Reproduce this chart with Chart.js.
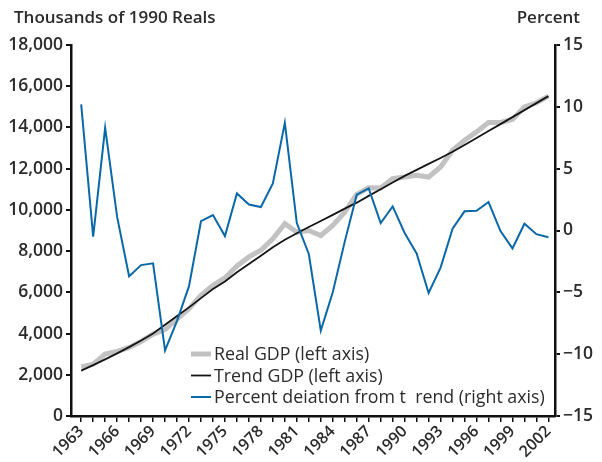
<!DOCTYPE html>
<html>
<head>
<meta charset="utf-8">
<script src="https://cdn.jsdelivr.net/npm/chart.js@4.4.0/dist/chart.umd.min.js"></script>
<style>
  html, body { margin: 0; padding: 0; background: #fff; }
  #wrap { position: relative; width: 602px; height: 462px; }
</style>
</head>
<body>
<div id="wrap"><canvas id="gdpChart"></canvas></div>
<script>
const years = [
  1963, 1964, 1965, 1966, 1967, 1968, 1969, 1970, 1971, 1972,
  1973, 1974, 1975, 1976, 1977, 1978, 1979, 1980, 1981, 1982,
  1983, 1984, 1985, 1986, 1987, 1988, 1989, 1990, 1991, 1992,
  1993, 1994, 1995, 1996, 1997, 1998, 1999, 2000, 2001, 2002
];

// thousands of 1990 reals
const realGdp = [
  2384, 2514, 3000, 3130, 3324, 3616, 3973, 4190, 4700, 5200,
  5860, 6340, 6700, 7280, 7720, 8040, 8597, 9327, 8919, 9000,
  8757, 9243, 9891, 10750, 11077, 11060, 11515, 11595, 11676, 11595,
  12080, 12892, 13378, 13784, 14240, 14240, 14385, 15000, 15195, 15520
];

const trendGdp = [
  2200, 2470, 2750, 3040, 3340, 3660, 4000, 4430, 4850, 5270,
  5720, 6160, 6530, 6970, 7380, 7780, 8190, 8550, 8870, 9170,
  9460, 9760, 10060, 10350, 10680, 11000, 11330, 11650, 11940, 12230,
  12520, 12820, 13150, 13490, 13830, 14160, 14500, 14840, 15180, 15520
];

// percent deviation from trend
const deviation = [
  10.2, -0.5, 8.3, 1.1, -3.7, -2.8, -2.65, -9.7, -7.3, -4.5,
  0.75, 1.25, -0.45, 3.0, 2.1, 1.9, 3.8, 8.7, 0.6, -1.9,
  -8.1, -5.0, -0.9, 2.9, 3.4, 0.6, 1.95, -0.2, -1.85, -5.05,
  -3.0, 0.15, 1.55, 1.6, 2.3, -0.05, -1.45, 0.55, -0.3, -0.55
];

const yearLabels = ["1963", "1966", "1969", "1972", "1975", "1978", "1981",
  "1984", "1987", "1990", "1993", "1996", "1999", "2002"];
const leftTicks = [0, 2000, 4000, 6000, 8000, 10000, 12000, 14000, 16000, 18000];
const rightTicks = [-15, -10, -5, 0, 5, 10, 15];

const leftTitle = "Thousands of 1990 Reals";
const rightTitle = "Percent";
const seriesNames = [
  "Real GDP (left axis)",
  "Trend GDP (left axis)",
  "Percent deiation from t  rend (right axis)"
];

const FONT = "'Open Sans', 'DejaVu Sans', sans-serif";
const INK = "#2b2b2b";

function pairs(values) {
  return values.map(function (v, i) { return { x: years[i], y: v }; });
}

const titlesPlugin = {
  id: "titles",
  afterDraw(chart) {
    const ctx = chart.ctx;
    ctx.save();
    ctx.fillStyle = INK;
    ctx.font = "600 17px " + FONT;
    ctx.textBaseline = "middle";
    ctx.textAlign = "left";
    ctx.fillText(leftTitle, 14, 18);
    ctx.textAlign = "right";
    ctx.fillText(rightTitle, 580, 18);
    ctx.restore();
  }
};

// legend sits inside the plot, lower right
const legendPlugin = {
  id: "insideLegend",
  afterDatasetsDraw(chart) {
    const ctx = chart.ctx;
    ctx.save();
    ctx.font = "17.8px " + FONT;
    ctx.textBaseline = "middle";
    ctx.textAlign = "left";
    chart.data.datasets.forEach(function (ds, i) {
      const y = 354 + i * 21.5;
      ctx.strokeStyle = ds.borderColor;
      ctx.lineWidth = ds.borderWidth;
      ctx.beginPath();
      ctx.moveTo(191, y);
      ctx.lineTo(211, y);
      ctx.stroke();
      ctx.fillStyle = INK;
      ctx.fillText(ds.label, 214, y + 1);
    });
    ctx.restore();
  }
};

new Chart(document.getElementById("gdpChart"), {
  type: "line",
  data: {
    datasets: [
      {
        label: seriesNames[0],
        data: pairs(realGdp),
        yAxisID: "y",
        borderColor: "#c2c2c2",
        borderWidth: 5,
        order: 3
      },
      {
        label: seriesNames[1],
        data: pairs(trendGdp),
        yAxisID: "y",
        borderColor: "#151515",
        borderWidth: 1.8,
        order: 2
      },
      {
        label: seriesNames[2],
        data: pairs(deviation),
        yAxisID: "y1",
        borderColor: "#0b68a8",
        borderWidth: 2,
        order: 1
      }
    ]
  },
  options: {
    responsive: true,
    maintainAspectRatio: false,
    animation: false,
    elements: {
      point: { radius: 0 },
      line: { tension: 0, borderJoinStyle: "miter" }
    },
    layout: { padding: { top: 45, left: 0, right: 0, bottom: 0 } },
    plugins: {
      legend: { display: false },
      tooltip: { enabled: false }
    },
    scales: {
      x: {
        type: "linear",
        min: 1962.15,
        max: 2002.55,
        grid: {
          drawOnChartArea: false,
          color: "#111",
          lineWidth: 1.5,
          tickLength: 6
        },
        border: { color: "#111", width: 2.5 },
        afterBuildTicks: function (scale) {
          scale.ticks = years.map(function (v) { return { value: v }; });
        },
        ticks: {
          autoSkip: false,
          maxRotation: 45,
          minRotation: 45,
          padding: 0,
          color: INK,
          font: { family: FONT, size: 16, weight: "600" },
          callback: function (v) {
            const s = String(v);
            return yearLabels.indexOf(s) >= 0 ? s : "";
          }
        },
        afterFit: function (scale) { scale.height = 46; }
      },
      y: {
        position: "left",
        min: leftTicks[0],
        max: leftTicks[leftTicks.length - 1],
        grid: {
          drawOnChartArea: false,
          color: "#111",
          lineWidth: 2,
          tickLength: 5
        },
        border: { color: "#111", width: 2.5 },
        afterBuildTicks: function (scale) {
          scale.ticks = leftTicks.map(function (v) { return { value: v }; });
        },
        ticks: {
          padding: 3,
          color: INK,
          font: { family: FONT, size: 17.5, weight: "600" },
          callback: function (v) { return v.toLocaleString("en-US"); }
        },
        afterFit: function (scale) { scale.width = 71; }
      },
      y1: {
        position: "right",
        min: rightTicks[0],
        max: rightTicks[rightTicks.length - 1],
        grid: {
          drawOnChartArea: false,
          color: "#111",
          lineWidth: 2,
          tickLength: 5
        },
        border: { color: "#111", width: 2.5 },
        afterBuildTicks: function (scale) {
          scale.ticks = rightTicks.map(function (v) { return { value: v }; });
        },
        ticks: {
          padding: 3,
          color: INK,
          font: { family: FONT, size: 17.5, weight: "600" },
          callback: function (v) { return v < 0 ? "\u2212" + Math.abs(v) : String(v); }
        },
        afterFit: function (scale) { scale.width = 47; }
      }
    }
  },
  plugins: [titlesPlugin, legendPlugin]
});
</script>
</body>
</html>
